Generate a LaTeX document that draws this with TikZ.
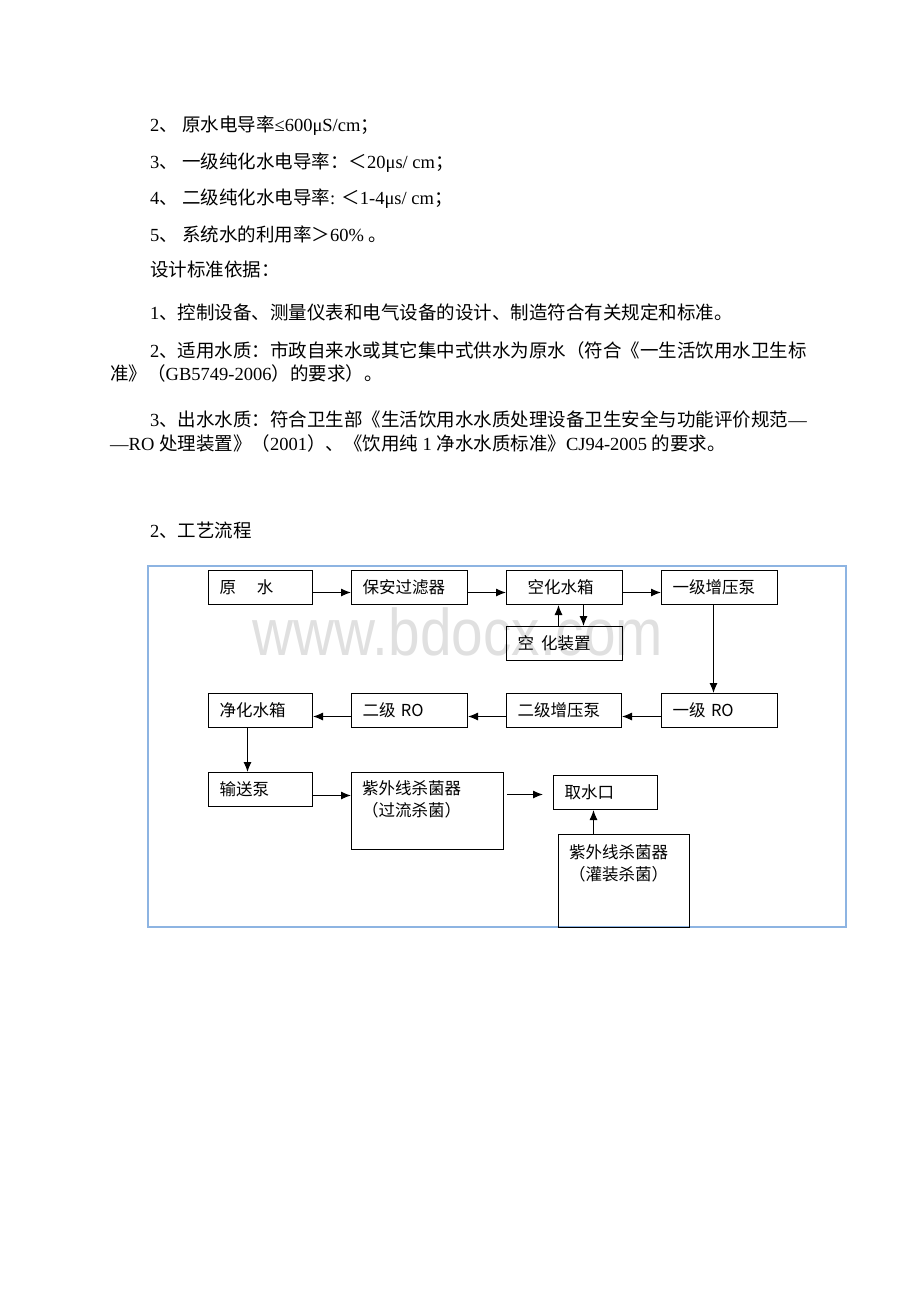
\documentclass[tikz,border=0pt]{standalone}
\usepackage{fontspec}
\setmainfont{Liberation Serif}
\newfontfamily\cjk{Noto Sans CJK SC}
\newfontfamily\wmfont{Liberation Sans}
\usetikzlibrary{calc}
\usetikzlibrary{arrows.meta}

\definecolor{framecol}{RGB}{141,180,226}
\definecolor{wmgray}{RGB}{224,224,224}
\newcommand\boxfont{\cjk\fontsize{16.5}{22}\selectfont}
\newcommand\parafont{\fontsize{18.5}{22}\selectfont}

\tikzset{
	box/.style={draw, line width=1pt, anchor=north west, minimum height=34pt,
		inner xsep=11pt, inner ysep=0pt, text width=#1, align=left, font=\boxfont},
	tallbox/.style={draw, line width=1pt, anchor=north west, inner sep=0pt},
	boxtext/.style={anchor=north west, inner sep=0pt, align=left, font=\boxfont},
	para/.style={anchor=base west, inner sep=0pt, font=\parafont},
	flow/.style={-{Latex[length=10pt,width=8pt]}, line width=1.1pt},
	frame/.style={draw=framecol, line width=1.2pt},
	wm/.style={text=wmgray, inner sep=0pt, font=\wmfont\fontsize{66}{66}\selectfont}
}

\begin{document}
\begin{tikzpicture}[x=1pt,y=-1pt]
		\useasboundingbox (0,0) rectangle (920,1302);
		\node[wm, anchor=base] (wm) at (458,655) {\scalebox{0.86}[1]{www.bdocx.com}};
		% text above the chart
		\node[para] (t2) at (150,131) {2{\cjk 、 原水电导率}≤600μS/cm{\cjk ；}};
		\node[para] (t3) at (150,168) {3{\cjk 、 一级纯化水电导率：＜}20μs/ cm{\cjk ；}};
		\node[para] (t4) at (150,204) {4{\cjk 、 二级纯化水电导率}: {\cjk ＜}1-4μs/ cm{\cjk ；}};
		\node[para] (t5) at (150,241) {5{\cjk 、 系统水的利用率＞}60\% {\cjk 。}};
		\node[para] (std) at (150,276) {{\cjk 设计标准依据：}};
		\node[para] (p1) at (150,319) {1{\cjk 、控制设备、测量仪表和电气设备的设计、制造符合有关规定和标准。}};
		\node[para] (p2a) at (150,357) {2{\cjk 、适用水质：市政自来水或其它集中式供水为原水（符合《一生活饮用水卫生标}};
		\node[para] (p2b) at (110,380) {{\cjk 准》（}GB5749-2006{\cjk ）的要求）。}};
		\node[para] (p3a) at (150,426) {3{\cjk 、出水水质：符合卫生部《生活饮用水水质处理设备卫生安全与功能评价规范}—};
		\node[para] (p3b) at (110,450) {—RO {\cjk 处理装置》（}2001{\cjk ）、《饮用纯} 1 {\cjk 净水水质标准》}CJ94-2005 {\cjk 的要求。}};
		\node[para] (ttl) at (150,537) {2{\cjk 、工艺流程}};
		% chart
		\draw[frame] (148,566) rectangle (846,927);
		\node[box=82pt] (raw) at (208,570) {原\hspace{21pt}水};
		\node[box=94pt] (filt) at (351,570) {保安过滤器};
		\node[box=94pt] (tank) at (506,570) {\hspace*{10pt}空化水箱};
		\node[box=94pt] (pump1) at (661,570) {一级增压泵};
		\node[box=94pt] (dev) at (506,626) {空\hspace{7pt}化装置};
		\node[box=82pt] (ctank) at (208,693) {净化水箱};
		\node[box=94pt] (ro2) at (351,693) {二级 RO};
		\node[box=93pt] (pump2) at (506,693) {二级增压泵};
		\node[box=94pt] (ro1) at (661,693) {一级 RO};
		\node[box=82pt] (tpump) at (208,772) {输送泵};
		\node[tallbox, minimum width=152pt, minimum height=77pt] (uv1) at (351,772) {};
		\node[boxtext] (uv1t) at (362,780) {紫外线杀菌器\\（过流杀菌）};
		\node[box=82pt] (out) at (553,775) {取水口};
		\node[tallbox, minimum width=131pt, minimum height=93pt] (uv2) at (558,834) {};
		\node[boxtext] (uv2t) at (569,844) {紫外线杀菌器\\（灌装杀菌）};
		\draw ([yshift=-5pt]raw.east) edge[flow] ([yshift=-5pt]filt.west)
		([yshift=-5pt]filt.east) edge[flow] ([yshift=-5pt]tank.west)
		([yshift=-5pt]tank.east) edge[flow] ([yshift=-5pt]pump1.west)
		([xshift=-6pt]dev.north) edge[flow] ([xshift=-6pt]tank.south)
		([xshift=19pt]tank.south) edge[flow] ([xshift=19pt]dev.north)
		([xshift=-6pt]pump1.south) edge[flow] ([xshift=-6pt]ro1.north)
		([yshift=-6pt]ro1.west) edge[flow] ([yshift=-6pt]pump2.east)
		([yshift=-6pt]pump2.west) edge[flow] ([yshift=-6pt]ro2.east)
		([yshift=-6pt]ro2.west) edge[flow] ([yshift=-6pt]ctank.east)
		([xshift=-13pt]ctank.south) edge[flow] ([xshift=-13pt]tpump.north)
		([yshift=-6pt]tpump.east) edge[flow] ([yshift=15.5pt]uv1.west)
		([xshift=3pt,yshift=16.5pt]uv1.east) edge[flow] ([xshift=-10pt,yshift=-2pt]out.west)
		([xshift=-30.5pt]uv2.north) edge[flow] ([xshift=-12pt]out.south);
	\end{tikzpicture}
\end{document}
